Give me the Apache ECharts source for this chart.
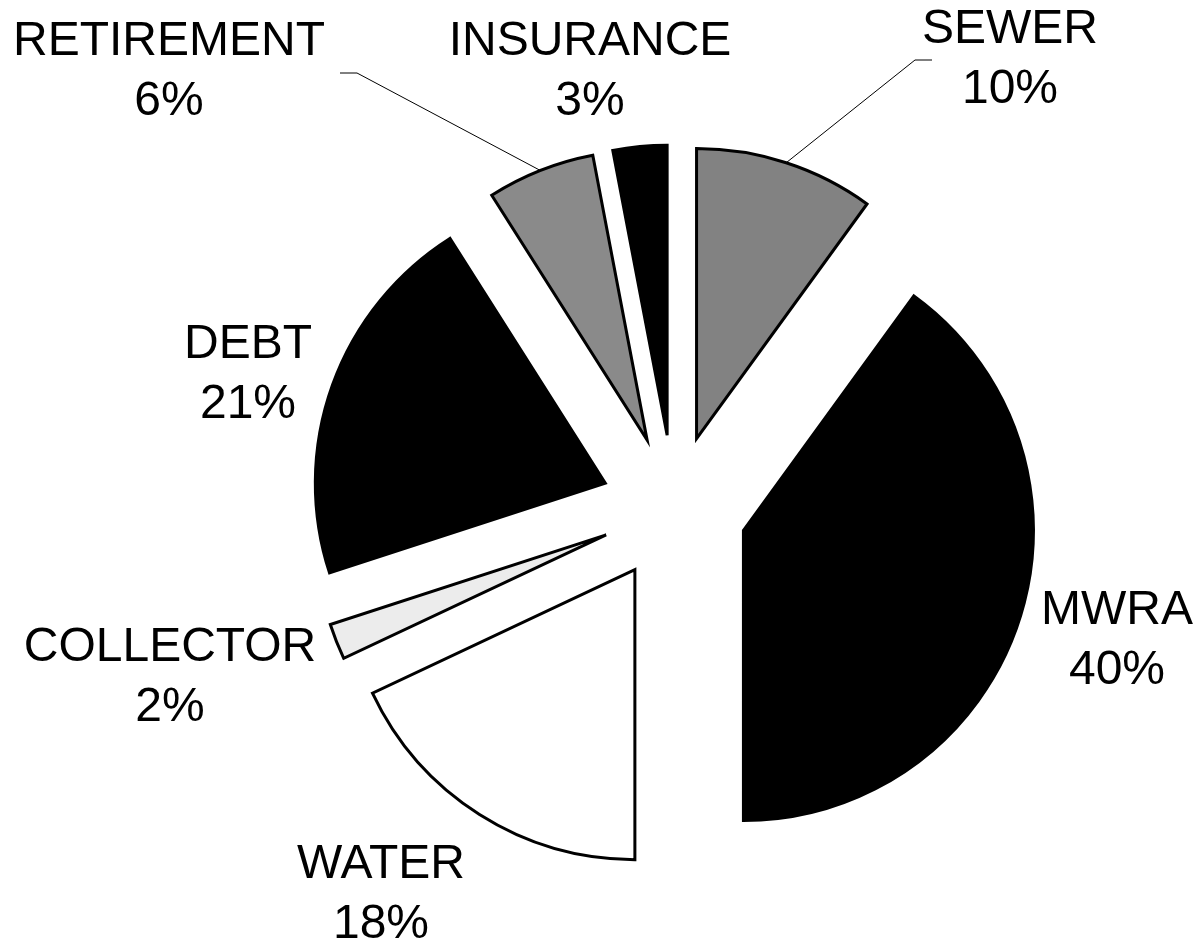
<!DOCTYPE html>
<html><head><meta charset="utf-8">
<script src="https://cdn.jsdelivr.net/npm/echarts@6/dist/echarts.min.js"></script>
<style>html,body{margin:0;padding:0;background:#fff}#chart{width:1203px;height:952px}</style>
</head><body><div id="chart"></div>
<script>
// ---- data ----
const categories = ['SEWER', 'MWRA', 'WATER', 'COLLECTOR', 'DEBT', 'RETIREMENT', 'INSURANCE'];
const values = [10, 40, 18, 2, 21, 6, 3];

// ---- styles / layout ----
const sliceColors = ['#828282', '#000000', '#ffffff', '#ececec', '#000000', '#8a8a8a', '#000000'];
const labelCenters = [[1010, 60], [1117, 641], [381, 895], [170, 678], [248, 375], [169, 72], [590, 72]];
const leaderElbows = { 0: [[915, 60], [932, 60]], 5: [[357, 73], [340, 73]] };
const PIE_CENTER = [674, 508];
const PIE_RADIUS = 290;
const EXPLODE = 73;

const chart = echarts.init(document.getElementById('chart'), null, { renderer: 'canvas' });

const sliceData = categories.map((name, i) => ({
  name: name, value: values[i], selected: true,
  itemStyle: { color: sliceColors[i] }
}));
const labelData = categories.map((name, i) => ({
  name: name, value: values[i],
  labelLine: { show: leaderElbows[i] != null }
}));

chart.setOption({
  animation: false,
  backgroundColor: '#ffffff',
  series: [{
    // exploded slices
    type: 'pie',
    center: PIE_CENTER,
    radius: [0, PIE_RADIUS],
    startAngle: 90,
    clockwise: true,
    selectedMode: 'multiple',
    selectedOffset: EXPLODE,
    silent: true,
    itemStyle: { borderColor: '#000', borderWidth: 3, borderJoin: 'miter' },
    select: { itemStyle: { borderColor: '#000', borderWidth: 3 } },
    emphasis: { disabled: true },
    label: { show: false },
    labelLine: { show: false },
    data: sliceData
  }, {
    // labels, laid out on the exploded outer edge
    type: 'pie',
    center: PIE_CENTER,
    radius: [0, PIE_RADIUS + EXPLODE],
    startAngle: 90,
    clockwise: true,
    silent: true,
    avoidLabelOverlap: false,
    itemStyle: { color: 'rgba(0,0,0,0)', borderWidth: 0 },
    emphasis: { disabled: true },
    label: {
      show: true,
      position: 'outside',
      formatter: p => p.name + '\n' + Math.round(p.percent) + '%',
      fontFamily: "'Liberation Sans', Arial, sans-serif",
      fontSize: 48,
      lineHeight: 60,
      color: '#000'
    },
    labelLine: { show: true, lineStyle: { color: '#000', width: 1 }, length: 10, length2: 10 },
    labelLayout: function (params) {
      const i = params.dataIndex;
      const out = {
        x: labelCenters[i][0],
        y: labelCenters[i][1],
        align: 'center',
        verticalAlign: 'middle'
      };
      if (leaderElbows[i] && params.labelLinePoints) {
        out.labelLinePoints = [params.labelLinePoints[0]].concat(leaderElbows[i]);
      }
      return out;
    },
    data: labelData
  }]
});
</script></body></html>
